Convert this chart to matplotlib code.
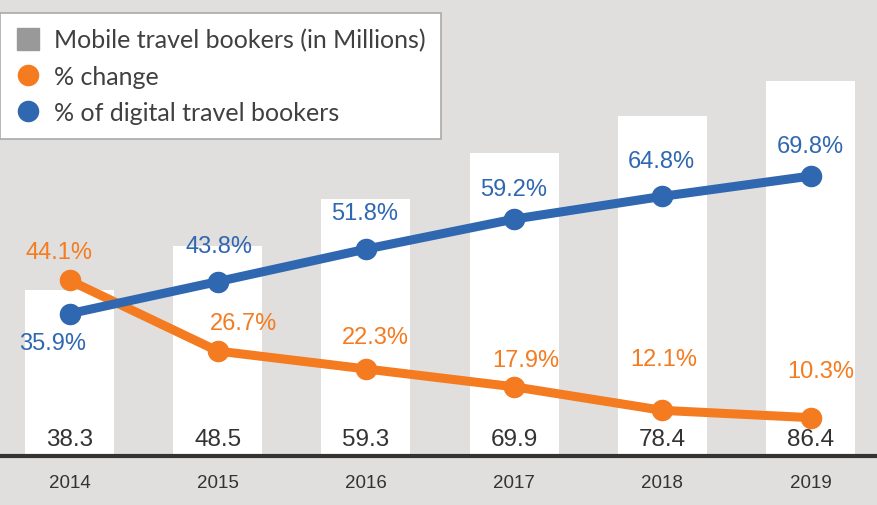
import numpy as np
import matplotlib.pyplot as plt
from matplotlib.lines import Line2D

years = ["2014", "2015", "2016", "2017", "2018", "2019"]
bookers = [38.3, 48.5, 59.3, 69.9, 78.4, 86.4]
pct_change = [44.1, 26.7, 22.3, 17.9, 12.1, 10.3]
pct_digital = [35.9, 43.8, 51.8, 59.2, 64.8, 69.8]

# label offsets in pixels (dx, dy) relative to each point
off_change = [(-11, 28), (26, 28), (9, 32), (12, 27), (1, 51), (10, 47)]
off_digital = [(-17, -29), (1, 36), (-1, 36), (-1, 30), (-1, 35), (0, 30)]

BG = "#e0dfdd"
ORANGE = "#f47b20"
BLUE = "#2f67b1"
DARK = "#333333"
FONT = "Liberation Sans"

fig = plt.figure(figsize=(8.78, 5.06), dpi=100, facecolor=BG)
ax = fig.add_axes([0, 49/506, 1, 457/506])
ax.set_facecolor(BG)
x = np.arange(len(years))

ax.bar(x, bookers, width=0.6, color="white", zorder=1)
ax.set_xlim(-0.469, 5.455)
ax.set_ylim(0, 105.3)
for sp in ["top", "left", "right"]:
    ax.spines[sp].set_visible(False)
ax.spines["bottom"].set_linewidth(3)
ax.spines["bottom"].set_color(DARK)
ax.spines["bottom"].set_zorder(5)
ax.set_yticks([])
ax.set_xticks(x)
ax.set_xticklabels(years, fontsize=13.5, color=DARK, family=FONT)
ax.tick_params(axis="x", length=0, pad=13)

for i, v in enumerate(bookers):
    ax.annotate(f"{v}", (i, 0), xytext=(0, 17), textcoords="offset pixels",
                ha="center", va="center", fontsize=17.5, color=DARK, family=FONT)

ax2 = ax.twinx()
ax2.set_ylim(0.86, 113.4)
ax2.axis("off")
ax2.plot(x, pct_change, color=ORANGE, lw=6.5, marker="o", ms=14.5, zorder=2)
ax2.plot(x, pct_digital, color=BLUE, lw=6.5, marker="o", ms=14.5, zorder=3)

for i, v in enumerate(pct_change):
    ax2.annotate(f"{v}%", (i, v), xytext=off_change[i], textcoords="offset pixels",
                 ha="center", va="center", fontsize=17, color=ORANGE, family=FONT)
for i, v in enumerate(pct_digital):
    ax2.annotate(f"{v}%", (i, v), xytext=off_digital[i], textcoords="offset pixels",
                 ha="center", va="center", fontsize=17, color=BLUE, family=FONT)

handles = [
    Line2D([], [], ls="none", marker="s", ms=16, color="#999999"),
    Line2D([], [], ls="none", marker="o", ms=14.5, color=ORANGE),
    Line2D([], [], ls="none", marker="o", ms=14.5, color=BLUE),
]
labels = ["Mobile travel bookers (in Millions)", "% change", "% of digital travel bookers"]
leg = fig.legend(handles, labels, loc="upper left", bbox_to_anchor=(0.0, 1 - 14/506),
                 borderaxespad=0, frameon=True, fancybox=False, framealpha=1,
                 edgecolor="#aaaaaa", facecolor="white",
                 prop={"family": "Lato", "size": 18}, labelcolor="#404040",
                 handlelength=1.0, handletextpad=0.55, labelspacing=0.52,
                 borderpad=0.62)
leg.get_frame().set_linewidth(1.2)

fig.savefig("out.png", dpi=100, facecolor=BG)
